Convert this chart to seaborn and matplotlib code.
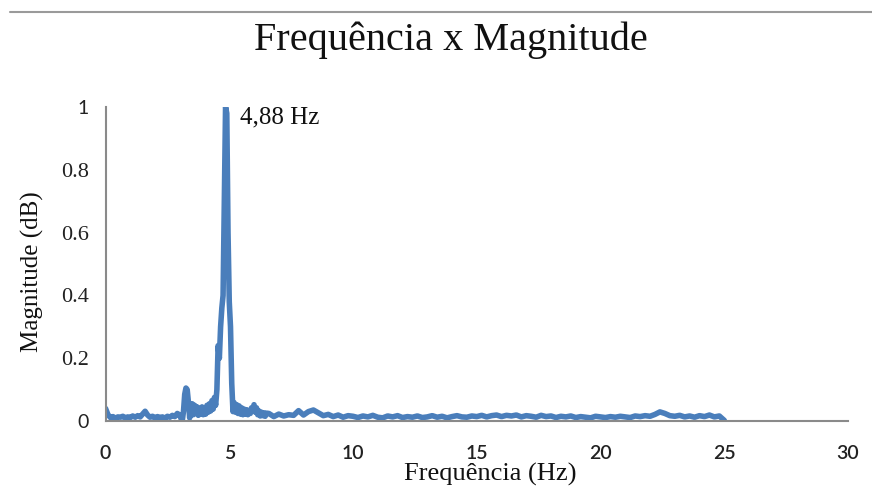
import numpy as np
import pandas as pd
import seaborn as sns
import matplotlib.pyplot as plt
from matplotlib.lines import Line2D

# Spectrum (three segments with different step sizes)
# 0.0 - 3.0 Hz, step 0.1
mag_low = [0.040, 0.020, 0.011, 0.014, 0.009, 0.013, 0.012, 0.015, 0.010, 0.013,
           0.011, 0.016, 0.012, 0.017, 0.013, 0.022, 0.031, 0.019, 0.012, 0.015,
           0.010, 0.014, 0.011, 0.013, 0.009, 0.015, 0.012, 0.018, 0.014, 0.024,
           0.019]
# 3.05 - 6.5 Hz, step 0.05 (peak region)
mag_peak = [0.008, 0.000, 0.030, 0.085, 0.105, 0.100, 0.060, 0.010, 0.045, 0.055,
            0.020, 0.050, 0.024, 0.045, 0.018, 0.040, 0.022, 0.045, 0.020, 0.040,
            0.022, 0.050, 0.028, 0.055, 0.032, 0.065, 0.038, 0.075, 0.050, 0.100,
            0.240, 0.200, 0.300, 0.360, 0.400, 0.700, 1.000, 0.980, 0.600, 0.380,
            0.300, 0.120, 0.030, 0.058, 0.028, 0.052, 0.024, 0.048, 0.022, 0.042,
            0.020, 0.038, 0.022, 0.036, 0.020, 0.033, 0.024, 0.042, 0.032, 0.052,
            0.028, 0.042, 0.020, 0.032, 0.016, 0.028, 0.017, 0.026, 0.015, 0.025]
# 6.6 - 25.0 Hz, step 0.2
mag_high = [0.024, 0.014, 0.022, 0.016, 0.020, 0.018, 0.033, 0.019, 0.030, 0.035,
            0.026, 0.017, 0.021, 0.014, 0.019, 0.012, 0.017, 0.015, 0.011, 0.016,
            0.013, 0.018, 0.012, 0.010, 0.016, 0.013, 0.017, 0.011, 0.014, 0.012,
            0.016, 0.011, 0.013, 0.017, 0.012, 0.015, 0.010, 0.014, 0.017, 0.013,
            0.012, 0.016, 0.014, 0.018, 0.013, 0.017, 0.019, 0.014, 0.018, 0.016,
            0.019, 0.013, 0.017, 0.015, 0.012, 0.018, 0.014, 0.016, 0.011, 0.015,
            0.013, 0.016, 0.011, 0.014, 0.012, 0.010, 0.015, 0.013, 0.011, 0.014,
            0.012, 0.015, 0.013, 0.011, 0.016, 0.014, 0.017, 0.015, 0.021, 0.029,
            0.024, 0.017, 0.015, 0.018, 0.013, 0.016, 0.012, 0.017, 0.014, 0.019,
            0.013, 0.016, 0.002]

freq = np.concatenate([
    np.linspace(0.0, 3.0, len(mag_low)),
    np.linspace(3.05, 6.5, len(mag_peak)),
    np.linspace(6.6, 25.0, len(mag_high)),
])
df = pd.DataFrame({'freq': freq, 'mag': mag_low + mag_peak + mag_high})

x_ticks = [0, 5, 10, 15, 20, 25, 30]
y_ticks = [0, 0.2, 0.4, 0.6, 0.8, 1]
y_tick_labels = ['0', '0.2', '0.4', '0.6', '0.8', '1']
peak_freq = 4.88
peak_label = '4,88 Hz'

sns.set_style('white')
serif = 'Liberation Serif'
sans = 'Lato'

fig = plt.figure(figsize=(8.72, 4.88), dpi=100)
ax = fig.add_axes([0.121, 0.1373, 0.8515, 0.6434])

sns.lineplot(data=df, x='freq', y='mag', color='#4a7ebb', linewidth=4, ax=ax)

ax.set_xlim(0, 30)
ax.set_ylim(0, 1)
ax.set_xticks(x_ticks)
ax.set_yticks(y_ticks)
ax.set_yticklabels(y_tick_labels)

sns.despine(ax=ax)
for side in ['left', 'bottom']:
    ax.spines[side].set_color('#8a8a8a')
    ax.spines[side].set_linewidth(1.5)
ax.tick_params(axis='both', direction='out', length=6, width=1.5, color='#8a8a8a',
               labelcolor='#222222')
ax.tick_params(axis='x', pad=11, labelsize=14, labelfontfamily=sans)
ax.tick_params(axis='y', pad=6, labelsize=16, labelfontfamily=serif)

# the 0 and 1 on the y axis are set in the sans face in the original
for tick in ax.yaxis.get_major_ticks():
    if tick.label1.get_text() in ('0', '1'):
        tick.label1.set_fontfamily(sans)
        tick.label1.set_fontsize(14)
for tick in ax.xaxis.get_major_ticks():
    tick.label1.set_fontweight('semibold')

ax.set_xlabel('Frequência (Hz)', fontfamily=serif, fontsize=19, color='#111111')
ax.set_ylabel('Magnitude (dB)', fontfamily=serif, fontsize=18, color='#111111')
ax.xaxis.set_label_coords(0.518, -0.135)
ax.yaxis.set_label_coords(-0.083, 0.475)

ax.annotate(peak_label, xy=(peak_freq, 1.0), xytext=(10, -11.5),
            textcoords='offset points', fontfamily=serif, fontsize=18,
            color='#111111', va='baseline', ha='left')

fig.text(451 / 872, 1 - 50 / 488, 'Frequência x Magnitude', ha='center',
         va='baseline', fontfamily=serif, fontsize=29, color='#111111')

# thin grey rule across the top of the slide
fig.add_artist(Line2D([0.011, 1.0], [1 - 12 / 488] * 2, color='#9a9a9a', lw=1.5))

fig.savefig('out.png', dpi=100)
